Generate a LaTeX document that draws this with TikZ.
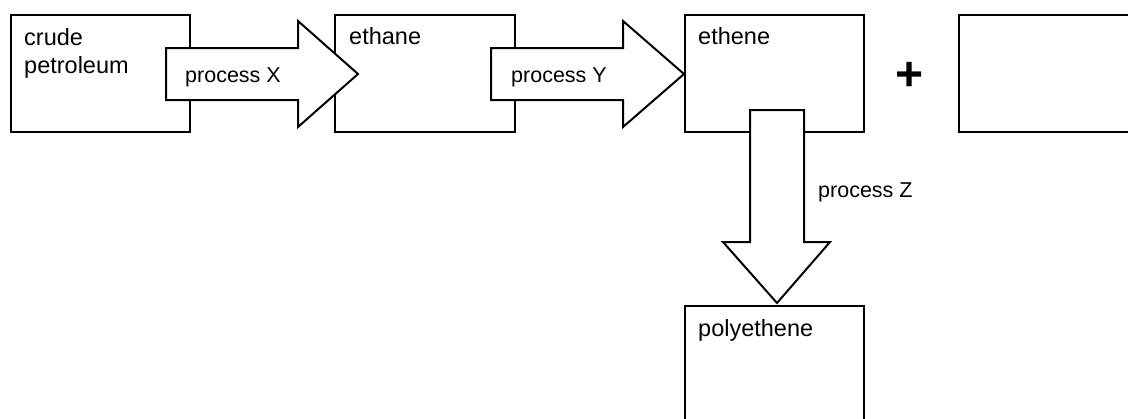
\documentclass[tikz,border=0pt]{standalone}
\usepackage{fontspec}
\setmainfont{Liberation Sans}
\begin{document}
\begin{tikzpicture}[x=1pt,y=-1pt,
  box/.style={draw,line width=2pt},
  blockarrow/.style={draw,fill=white,line width=2pt,line join=miter},
  lbl/.style={anchor=base west,inner sep=0pt,font=\fontsize{23.5}{27}\selectfont},
  plbl/.style={anchor=base west,inner sep=0pt,font=\fontsize{21.5}{25}\selectfont}]
\useasboundingbox (0,0) rectangle (1128,418);
\clip (0,0) rectangle (1128,418);
% boxes
\draw[box] (11,15) rectangle (190,132) coordinate (crudeSE);
\draw[box] (335,15) rectangle (515,132);
\draw[box] (685,15) rectangle (864,132);
\draw[box] (959,15) rectangle (1140,132);
\draw[box] (685,306) rectangle (864,440);
% block arrows
\draw[blockarrow] (166,48) -- (298,48) -- (298,21) -- (358,74) -- (298,127) -- (298,100) -- (166,100) -- cycle;
\draw[blockarrow] (491,48) -- (623,48) -- (623,21) -- (684,74) -- (623,127) -- (623,100) -- (491,100) -- cycle;
\draw[blockarrow] (750,110) -- (804,110) -- (804,242) -- (830,242) -- (777,303) -- (723,242) -- (750,242) -- cycle;
% labels
\node[lbl] (t1) at (24,45) {crude};
\node[lbl] (t2) at (24,73) {petroleum};
\node[lbl] (t3) at (349,44.5) {ethane};
\node[lbl] (t4) at (698,44.5) {ethene};
\node[lbl] (t5) at (698,336) {polyethene};
\node[plbl] (p1) at (185,82) {process X};
\node[plbl] (p2) at (511,82) {process Y};
\node[plbl] (p3) at (818,197) {process Z};
\node[anchor=base,inner sep=0pt,font=\fontsize{48}{50}\selectfont\bfseries] (plus) at (910,90) {+};
\end{tikzpicture}
\end{document}
